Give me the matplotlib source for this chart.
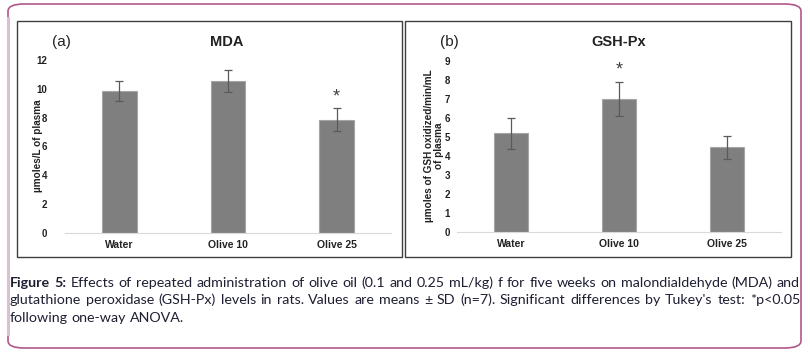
import matplotlib
matplotlib.use('Agg')
import matplotlib.pyplot as plt
from matplotlib.patches import Rectangle, FancyBboxPatch
import numpy as np

groups = ['Water', 'Olive 10', 'Olive 25']
mda_mean = [9.85, 10.55, 7.85]
mda_sd = [0.7, 0.75, 0.8]
gsh_mean = [5.2, 7.0, 4.45]
gsh_sd = [0.82, 0.92, 0.62]
mda_star = [None, None, '*']
gsh_star = [None, '*', None]

caption_lines = [
    "Effects of repeated administration of olive oil (0.1 and 0.25 mL/kg) f for five weeks on malondialdehyde (MDA) and",
    "glutathione peroxidase (GSH-Px) levels in rats. Values are means \u00b1 SD (n=7). Significant differences by Tukey's test: *p<0.05",
    "following one-way ANOVA.",
]

W, H = 810, 357
fig = plt.figure(figsize=(W / 100, H / 100), dpi=100)
plt.rcParams['font.family'] = ['Liberation Sans', 'DejaVu Sans']


def fx(px):
    return px / W


def fy(py):
    return 1 - py / H


# outer rounded frame
frame = FancyBboxPatch((fx(8), fy(348)), fx(793), (348 - 4) / H,
                       boxstyle='round,pad=0,rounding_size=0.02',
                       transform=fig.transFigure, fill=False,
                       edgecolor='#b0578b', lw=1.2)
fig.patches.append(frame)
fig.add_artist(plt.Line2D([fx(8), fx(8)], [fy(18), fy(334)], transform=fig.transFigure,
                          color='#dcbfd0', lw=2.2))

# panel boxes
for x0, x1 in [(17, 402), (405, 791)]:
    fig.patches.append(Rectangle((fx(x0), fy(257)), fx(x1 - x0), (257 - 21) / H,
                                 transform=fig.transFigure, fill=False,
                                 edgecolor='#3f3f3f', lw=1.0))


def panel(rect, means, sds, stars, ymax, title, tag, tag_x, title_x, ylabel, ylab_x, pad):
    ax = fig.add_axes(rect)
    x = np.arange(len(groups))
    ax.bar(x, means, width=0.32, color='#7f7f7f', edgecolor='#a5a5a5', lw=0.8,
           yerr=sds, error_kw=dict(ecolor='#5a5a5a', elinewidth=0.9, capsize=3, capthick=0.9))
    for i, s in enumerate(stars):
        if s:
            ax.text(i, means[i] + sds[i] + ymax * 0.065, s, ha='center', va='center',
                    fontsize=13, color='#404040')
    ax.set_xlim(-0.5, 2.5)
    ax.set_ylim(0, ymax)
    ax.set_yticks(range(0, ymax + 1, 2 if ymax > 10 else 1))
    ax.set_xticks(x)
    ax.set_xticklabels(groups, fontsize=7.5, fontweight='bold')
    for lab in ax.get_yticklabels():
        lab.set_fontweight('bold')
        lab.set_fontsize(7)
    ax.tick_params(axis='both', length=0, colors='#222222')
    ax.tick_params(axis='y', pad=pad)
    ax.tick_params(axis='x', pad=5)
    for sp in ['top', 'left', 'right']:
        ax.spines[sp].set_visible(False)
    ax.spines['bottom'].set_color('#d9d9d9')
    ax.patch.set_alpha(0)
    fig.text(fx(tag_x), fy(42), tag, fontsize=11, ha='left', va='center', color='#222222')
    fig.text(fx(title_x), fy(42), title, fontsize=10.5, fontweight='bold', ha='center',
             va='center', color='#222222')
    fig.text(fx(ylab_x), fy(146), ylabel, fontsize=7.2, fontweight='bold', rotation=90,
             ha='center', va='center', color='#222222', linespacing=0.95)
    return ax


panel([fx(65), fy(233), fx(326), (233 - 60) / H], mda_mean, mda_sd, mda_star, 12,
      'MDA', '(a)', 52, 227, '\u00b5moles/L of plasma', 38, 13)
panel([fx(457), fy(232), fx(324), (232 - 61) / H], gsh_mean, gsh_sd, gsh_star, 9,
      'GSH-Px', '(b)', 440, 619, '\u00b5moles of GSH oxidized/min/mL\nof plasma', 434, 5)

# caption, justified for the first two lines
cap_font = dict(family=['Lato', 'DejaVu Sans'], fontsize=10.3, color='#1f1f33')
renderer = fig.canvas.get_renderer()
left_px, right_px = 10, 800
line_y = [283, 300, 318]
for li, line in enumerate(caption_lines):
    words = [(w, 'normal') for w in line.split(' ')]
    if li == 0:
        words = [('Figure', 'bold'), ('5:', 'bold')] + words
    texts = []
    widths = []
    for w, wt in words:
        t = fig.text(0, fy(line_y[li]), w, fontweight=wt, va='center', ha='left', **cap_font)
        texts.append(t)
        widths.append(t.get_window_extent(renderer).width)
    space = fig.text(0, 0, 'a a', **cap_font)
    sw = space.get_window_extent(renderer).width
    space2 = fig.text(0, 0, 'aa', **cap_font)
    sw -= space2.get_window_extent(renderer).width
    space.remove()
    space2.remove()
    if li < 2:
        gap = (right_px - left_px - sum(widths)) / (len(words) - 1)
    else:
        gap = sw
    xpos = left_px
    for t, wdt in zip(texts, widths):
        t.set_x(fx(xpos))
        xpos += wdt + gap

fig.savefig('out.png', dpi=100)
